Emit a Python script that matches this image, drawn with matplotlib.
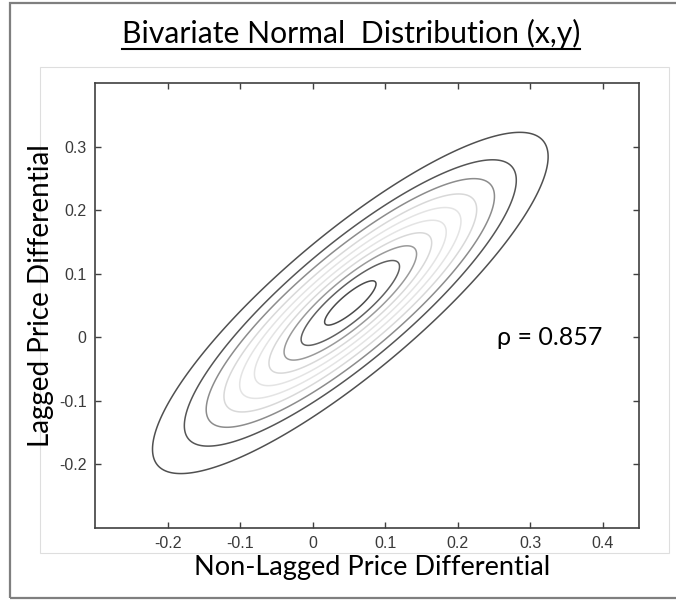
import numpy as np
import matplotlib.pyplot as plt
from matplotlib.patches import Rectangle
from matplotlib.lines import Line2D

# bivariate normal parameters
mu = [0.052, 0.054]
sigma = [0.126, 0.124]
rho = 0.857

# contour levels (density) and their grey shades, outer -> inner
levels = [1.9, 3.8, 5.7, 7.6, 9.5, 11.4, 13.3, 15.2, 17.1, 19.0]
level_colors = ['#505050', '#555555', '#8c8c8c', '#d8d8d8', '#e4e4e4',
                '#e4e4e4', '#d8d8d8', '#9a9a9a', '#606060', '#4a4a4a']

xticks = [-0.2, -0.1, 0, 0.1, 0.2, 0.3, 0.4]
yticks = [-0.2, -0.1, 0, 0.1, 0.2, 0.3]
xtick_labels = ['-0.2', '-0.1', '0', '0.1', '0.2', '0.3', '0.4']
ytick_labels = ['-0.2', '-0.1', '0', '0.1', '0.2', '0.3']

W, H = 676, 600
fig = plt.figure(figsize=(W / 100, H / 100), dpi=100)

# page frames
fig.add_artist(Rectangle((10 / W, 1 - 598 / H), 700 / W, 595 / H, fill=False,
                         ec='#7f7f7f', lw=1.6, transform=fig.transFigure))
fig.add_artist(Rectangle((40 / W, 1 - 553 / H), 629 / W, 486 / H, fill=False,
                         ec='#dedede', lw=0.8, transform=fig.transFigure))

ax = fig.add_axes([95 / W, 1 - 528 / H, 544 / W, 445 / H])

gx = np.linspace(-0.3, 0.45, 500)
gy = np.linspace(-0.3, 0.4, 500)
X, Y = np.meshgrid(gx, gy)
zx = (X - mu[0]) / sigma[0]
zy = (Y - mu[1]) / sigma[1]
q = (zx**2 - 2 * rho * zx * zy + zy**2) / (1 - rho**2)
Z = np.exp(-q / 2) / (2 * np.pi * sigma[0] * sigma[1] * np.sqrt(1 - rho**2))

ax.contour(X, Y, Z, levels=levels, colors=level_colors, linewidths=1.1)

ax.set_xlim(-0.3, 0.45)
ax.set_ylim(-0.3, 0.4)
ax.set_xticks(xticks, xtick_labels)
ax.set_yticks(yticks, ytick_labels)
ax.tick_params(direction='in', length=4, width=1, color='#404040',
               top=True, right=True, labelsize=11.5, labelcolor='#3a3a3a', pad=6)
for lab in ax.get_xticklabels() + ax.get_yticklabels():
    lab.set_family('Liberation Sans')
for s in ax.spines.values():
    s.set_color('#404040')
    s.set_linewidth(1.2)

lab_font = ['Lato', 'DejaVu Sans']
ax.text(0.254, 0.0, 'ρ = 0.857', fontsize=18, family=lab_font,
        ha='left', va='center')

fig.text(372 / W, 1 - 575 / H, 'Non-Lagged Price Differential', fontsize=19.5,
         family=lab_font, ha='center', va='baseline')
fig.text(41 / W, 1 - 296 / H, 'Lagged Price Differential', fontsize=20,
         family=lab_font, rotation=90, ha='center', va='center')

title = fig.text(351 / W, 1 - 43 / H, 'Bivariate Normal  Distribution (x,y)',
                 fontsize=21.7, family=lab_font, ha='center', va='baseline')

# underline the title
fig.canvas.draw()
bb = title.get_window_extent(fig.canvas.get_renderer())
fig.add_artist(Line2D([bb.x0 / W, bb.x1 / W], [1 - 49 / H, 1 - 49 / H],
                      color='black', lw=1.5, transform=fig.transFigure))

fig.savefig('out.png', dpi=100)
